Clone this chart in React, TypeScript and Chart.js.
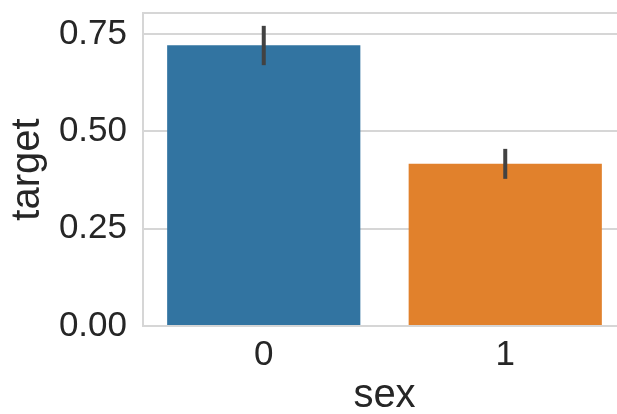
import React, { useEffect, useRef } from "react";
import { Chart, registerables } from "chart.js";

Chart.register(...registerables);

const categories = ["0", "1"];
const meanValues = [0.721, 0.417];
const ciLow = [0.670, 0.378];
const ciHigh = [0.771, 0.455];
const barColors = ["#3274A1", "#E1812C"];
const yTicks = [0, 0.25, 0.5, 0.75];
const yMax = 0.804;
const xTitle = "sex";
const yTitle = "target";

const FONT = "'Liberation Sans', Arial, 'DejaVu Sans', sans-serif";
const TEXT = "#262626";
const LINE = "#d6d6d6";

const framePlugin = {
  id: "frame",
  beforeDatasetsDraw(chart: any) {
    const { ctx, chartArea } = chart;
    ctx.save();
    ctx.strokeStyle = LINE;
    ctx.lineWidth = 2;
    ctx.strokeRect(chartArea.left, chartArea.top, chartArea.right - chartArea.left, chartArea.bottom - chartArea.top);
    ctx.restore();
  },
};

const errorBarPlugin = {
  id: "errorBars",
  afterDatasetsDraw(chart: any) {
    const { ctx } = chart;
    const x = chart.scales.x;
    const y = chart.scales.y;
    ctx.save();
    ctx.strokeStyle = "#424242";
    ctx.lineWidth = 4;
    ctx.lineCap = "butt";
    categories.forEach((_, i) => {
      const px = x.getPixelForValue(i);
      ctx.beginPath();
      ctx.moveTo(px, y.getPixelForValue(ciLow[i]));
      ctx.lineTo(px, y.getPixelForValue(ciHigh[i]));
      ctx.stroke();
    });
    ctx.restore();
  },
};

export default function App() {
  const ref = useRef<HTMLCanvasElement>(null);

  useEffect(() => {
    if (!ref.current) return;
    const chart = new Chart(ref.current, {
      type: "bar",
      data: {
        labels: categories,
        datasets: [
          {
            data: meanValues,
            backgroundColor: barColors,
            borderWidth: 0,
            barPercentage: 0.8,
            categoryPercentage: 1,
          },
        ],
      },
      options: {
        responsive: false,
        animation: false,
        devicePixelRatio: 1,
        layout: { padding: { top: 13, right: 10, left: 0, bottom: 0 } },
        plugins: { legend: { display: false }, tooltip: { enabled: false } },
        scales: {
          x: {
            type: "category",
            offset: true,
            grid: { display: false, drawTicks: false },
            border: { display: false },
            ticks: {
              padding: 8,
              color: TEXT,
              font: { family: FONT, size: 35, lineHeight: 1.2 },
              maxRotation: 0,
            },
            title: {
              display: true,
              text: xTitle,
              color: TEXT,
              font: { family: FONT, size: 40, lineHeight: 1 },
              padding: { top: 0, bottom: 0 },
            },
            afterFit(scale: any) {
              scale.height = 90;
              scale.paddingLeft = 0;
              scale.paddingRight = 0;
            },
          },
          y: {
            min: 0,
            max: yMax,
            grid: { color: LINE, lineWidth: 2, drawTicks: false },
            border: { display: false },
            afterBuildTicks(scale: any) {
              scale.ticks = yTicks.map((v) => ({ value: v }));
            },
            ticks: {
              padding: 16,
              color: TEXT,
              includeBounds: false,
              font: { family: FONT, size: 35, lineHeight: 0.7 },
              callback: (v: any) => Number(v).toFixed(2),
            },
            title: {
              display: true,
              text: yTitle,
              color: TEXT,
              font: { family: FONT, size: 40, lineHeight: 1 },
              padding: { top: 8, bottom: 0 },
            },
            afterFit(scale: any) {
              scale.width = 143;
              scale.paddingTop = 0;
              scale.paddingBottom = 0;
            },
          },
        },
      },
      plugins: [framePlugin, errorBarPlugin],
    });
    return () => chart.destroy();
  }, []);

  return (
    <div style={{ position: "fixed", left: 0, top: 0, width: 636, height: 416, background: "#fff" }}>
      <canvas ref={ref} width={636} height={416} style={{ display: "block" }} />
    </div>
  );
}
